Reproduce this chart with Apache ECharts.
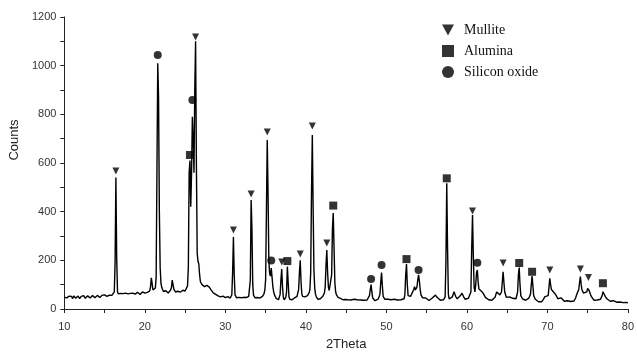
<!DOCTYPE html>
<html>
<head>
<meta charset="utf-8">
<script src="https://cdn.jsdelivr.net/npm/echarts@6/dist/echarts.min.js"></script>
<style>
  html, body { margin: 0; padding: 0; background: #fff; }
  #chart-container { width: 637px; height: 356px; }
</style>
</head>
<body>
<div id="chart-container"></div>
<script>
// diffraction scan, [2theta, counts]
var scan10to20 = [
  [10.0,48],[10.1,44],[10.2,51],[10.3,46],[10.4,42],[10.5,49],[10.6,53],[10.7,45],[10.8,47],[10.9,52],
  [11.0,43],[11.1,48],[11.2,54],[11.3,47],[11.4,44],[11.5,50],[11.6,46],[11.7,53],[11.8,49],[11.9,43],
  [12.0,47],[12.1,52],[12.2,45],[12.3,50],[12.4,55],[12.5,47],[12.6,44],[12.7,51],[12.8,48],[12.9,54],
  [13.0,46],[13.1,50],[13.2,45],[13.3,53],[13.4,49],[13.5,55],[13.6,47],[13.7,51],[13.8,46],[13.9,54],
  [14.0,50],[14.1,56],[14.2,48],[14.3,52],[14.4,47],[14.5,55],[14.6,51],[14.7,57],[14.8,49],[14.9,53],
  [15.0,58],[15.1,50],[15.2,55],[15.3,52],[15.4,59],[15.5,54],[15.6,57],[15.7,52],[15.8,60],[15.9,56],
  [16.0,58],[16.1,62],[16.2,70],[16.3,190],[16.4,540],[16.5,210],[16.6,72],[16.7,62],[16.8,66],[16.9,59],
  [17.0,64],[17.1,68],[17.2,57],[17.3,63],[17.4,67],[17.5,60],[17.6,65],[17.7,58],[17.8,66],[17.9,62],
  [18.0,69],[18.1,60],[18.2,64],[18.3,67],[18.4,59],[18.5,65],[18.6,62],[18.7,68],[18.8,61],[18.9,66],
  [19.0,63],[19.1,69],[19.2,62],[19.3,66],[19.4,60],[19.5,68],[19.6,64],[19.7,70],[19.8,63],[19.9,67],[20.0,65]
];
var scan20to30 = [
  [20.1,70],[20.2,64],[20.3,68],[20.4,72],[20.5,66],[20.6,74],[20.7,90],[20.8,128],[20.9,105],[21.0,78],
  [21.1,74],[21.2,80],[21.3,86],[21.4,130],[21.5,560],[21.6,1010],[21.7,870],[21.8,400],[21.9,170],[22.0,105],
  [22.1,88],[22.2,80],[22.3,72],[22.4,78],[22.5,68],[22.6,75],[22.7,70],[22.8,77],[22.9,66],[23.0,73],
  [23.1,70],[23.2,78],[23.3,88],[23.4,119],[23.5,100],[23.6,82],[23.7,74],[23.8,70],[23.9,76],[24.0,68],
  [24.1,73],[24.2,70],[24.3,76],[24.4,69],[24.5,74],[24.6,71],[24.7,77],[24.8,72],[24.9,75],[25.0,74],
  [25.1,78],[25.2,82],[25.3,95],[25.4,170],[25.5,560],[25.6,610],[25.7,420],[25.8,560],[25.9,790],[26.0,700],
  [26.1,560],[26.2,900],[26.3,1100],[26.4,600],[26.5,230],[26.6,195],[26.7,185],[26.8,140],[26.9,112],[27.0,104],
  [27.1,100],[27.2,106],[27.3,98],[27.4,92],[27.5,88],[27.6,93],[27.7,97],[27.8,100],[27.9,96],[28.0,90],
  [28.1,84],[28.2,80],[28.3,76],[28.4,72],[28.5,66],[28.6,70],[28.7,62],[28.8,60],[28.9,56],[29.0,60],
  [29.1,54],[29.2,52],[29.3,57],[29.4,50],[29.5,54],[29.6,49],[29.7,53],[29.8,48],[29.9,52],[30.0,47]
];
var scan30to45 = [
  [30.1,50],[30.2,46],[30.3,51],[30.4,47],[30.5,49],[30.6,45],[30.7,50],[30.8,58],[30.9,150],[31.0,296],
  [31.1,140],[31.2,58],[31.3,50],[31.4,46],[31.5,50],[31.6,45],[31.7,48],[31.8,44],[31.9,49],[32.0,46],
  [32.1,51],[32.2,45],[32.3,48],[32.4,44],[32.5,50],[32.6,47],[32.7,45],[32.8,50],[32.9,52],[33.0,58],
  [33.1,120],[33.2,448],[33.3,330],[33.4,100],[33.5,56],[33.6,50],[33.7,46],[33.8,49],[33.9,44],[34.0,47],
  [34.1,43],[34.2,48],[34.3,45],[34.4,50],[34.5,46],[34.6,52],[34.7,55],[34.8,62],[34.9,78],[35.0,120],
  [35.1,400],[35.2,695],[35.3,480],[35.4,200],[35.5,145],[35.6,135],[35.7,168],[35.8,130],[35.9,92],[36.0,70],
  [36.1,58],[36.2,50],[36.3,44],[36.4,40],[36.5,42],[36.6,38],[36.7,44],[36.8,60],[36.9,120],[37.0,164],
  [37.1,90],[37.2,48],[37.3,38],[37.4,42],[37.5,48],[37.6,70],[37.7,174],[37.8,110],[37.9,50],[38.0,40],
  [38.1,37],[38.2,42],[38.3,38],[38.4,44],[38.5,40],[38.6,46],[38.7,42],[38.8,48],[38.9,52],[39.0,58],
  [39.1,80],[39.2,150],[39.3,200],[39.4,110],[39.5,62],[39.6,52],[39.7,48],[39.8,44],[39.9,50],[40.0,47],
  [40.1,52],[40.2,55],[40.3,60],[40.4,66],[40.5,80],[40.6,150],[40.7,480],[40.8,715],[40.9,420],[41.0,160],
  [41.1,85],[41.2,60],[41.3,50],[41.4,45],[41.5,40],[41.6,44],[41.7,38],[41.8,42],[41.9,48],[42.0,46],
  [42.1,52],[42.2,58],[42.3,66],[42.4,90],[42.5,180],[42.6,242],[42.7,150],[42.8,90],[42.9,76],[43.0,72],
  [43.1,80],[43.2,140],[43.3,330],[43.4,394],[43.5,250],[43.6,110],[43.7,70],[43.8,58],[43.9,52],[44.0,48],
  [44.1,45],[44.2,50],[44.3,44],[44.4,40],[44.5,43],[44.6,38],[44.7,41],[44.8,36],[44.9,39],[45.0,34]
];
var scan45to60 = [
  [45.2,38],[45.4,33],[45.6,37],[45.8,34],[46.0,40],[46.2,45],[46.4,38],[46.6,34],[46.8,37],[47.0,42],
  [47.2,36],[47.4,33],[47.6,37],[47.8,42],[47.9,55],[48.0,80],[48.1,100],[48.2,70],[48.3,45],[48.4,38],
  [48.6,34],[48.8,37],[49.0,42],[49.2,60],[49.3,110],[49.4,150],[49.5,95],[49.6,52],[49.8,40],[50.0,36],
  [50.2,40],[50.4,46],[50.6,38],[50.8,35],[51.0,40],[51.2,46],[51.4,37],[51.6,33],[51.8,38],[52.0,35],
  [52.2,42],[52.3,60],[52.4,140],[52.5,185],[52.6,100],[52.7,55],[52.8,48],[53.0,52],[53.2,58],[53.4,80],
  [53.5,92],[53.6,78],[53.7,70],[53.8,90],[53.9,120],[54.0,140],[54.1,115],[54.2,80],[54.3,58],[54.5,46],
  [54.7,42],[54.9,45],[55.1,38],[55.3,35],[55.5,40],[55.7,45],[55.9,52],[56.1,57],[56.3,48],[56.5,40],
  [56.7,36],[56.9,40],[57.1,38],[57.3,50],[57.4,200],[57.5,517],[57.6,250],[57.7,60],[57.8,42],[58.0,38],
  [58.2,50],[58.4,71],[58.6,52],[58.8,42],[59.0,46],[59.2,55],[59.4,65],[59.6,50],[59.8,40],[60.0,42]
];
var scan60to80 = [
  [60.2,45],[60.4,52],[60.5,70],[60.6,250],[60.7,386],[60.8,220],[60.9,90],[61.0,70],[61.1,100],[61.2,150],
  [61.3,160],[61.4,110],[61.5,82],[61.7,78],[61.9,70],[62.1,60],[62.3,48],[62.5,40],[62.7,38],[62.9,42],
  [63.1,36],[63.3,40],[63.5,48],[63.7,70],[63.9,66],[64.1,58],[64.3,70],[64.4,110],[64.5,153],[64.6,110],
  [64.7,70],[64.9,48],[65.1,40],[65.3,50],[65.5,57],[65.7,44],[65.9,38],[66.1,42],[66.3,70],[66.4,140],
  [66.5,170],[66.6,100],[66.7,55],[66.9,42],[67.1,38],[67.3,36],[67.5,40],[67.7,45],[67.9,60],[68.0,100],
  [68.1,135],[68.2,95],[68.3,55],[68.5,40],[68.7,32],[68.9,30],[69.1,34],[69.3,30],[69.5,40],[69.7,51],
  [69.9,44],[70.1,55],[70.2,90],[70.3,126],[70.4,100],[70.5,80],[70.7,85],[70.9,65],[71.1,55],[71.3,42],
  [71.5,50],[71.7,46],[71.9,38],[72.1,32],[72.3,30],[72.5,34],[72.7,37],[72.9,31],[73.1,29],[73.3,33],
  [73.5,45],[73.7,65],[73.9,80],[74.0,110],[74.1,133],[74.2,100],[74.3,78],[74.5,65],[74.7,57],[74.9,70],
  [75.0,85],[75.1,92],[75.2,75],[75.4,55],[75.6,45],[75.8,36],[76.0,33],[76.2,37],[76.4,32],[76.6,40],
  [76.8,55],[76.9,71],[77.0,65],[77.2,51],[77.4,42],[77.6,37],[77.8,32],[78.0,30],[78.2,34],[78.4,33],
  [78.6,28],[78.8,26],[79.0,29],[79.2,24],[79.4,26],[79.6,23],[79.8,27],[80.0,25]
];

// phase marks, [2theta, counts] where each symbol sits
var mullitePeaks = [[16.4,567],[26.3,1118],[31.0,325],[33.2,473],[35.2,727],[37.0,193],[39.3,226],
  [40.8,752],[42.6,271],[60.7,403],[64.5,189],[70.3,160],[74.1,164],[75.1,129]];
var aluminaPeaks = [[25.6,633],[37.7,197],[43.4,425],[52.5,205],[57.5,537],[66.5,189],[68.1,153],[76.9,106]];
var silicaPeaks = [[21.6,1044],[25.9,859],[35.7,199],[48.1,123],[49.4,181],[54.0,160],[61.3,190]];

var phaseNames = ["Mullite", "Alumina", "Silicon oxide"];

var scan = scan10to20.concat(scan20to30, scan30to45, scan45to60, scan60to80);

var triangleDown = "path://M0,0L10,0L5,9Z";
var tickFont = "'Liberation Sans Narrow', 'Liberation Sans', sans-serif";

var dom = document.getElementById("chart-container");
var myChart = echarts.init(dom, null, { renderer: "canvas" });

var option = {
  backgroundColor: "#fff",
  animation: false,
  grid: { left: 63, right: 9, top: 17, bottom: 47 },
  legend: {
    orient: "vertical",
    left: 437,
    top: 18,
    itemWidth: 12,
    itemHeight: 12,
    itemGap: 7,
    textStyle: {
      fontFamily: "'Liberation Serif', serif",
      fontSize: 14,
      color: "#111",
      padding: [0, 0, 0, 5],
    },
    data: [
      { name: phaseNames[0], icon: triangleDown },
      { name: phaseNames[1], icon: "rect" },
      { name: phaseNames[2], icon: "circle" },
    ],
  },
  xAxis: {
    type: "value",
    min: 10,
    max: 80,
    interval: 5,
    name: "2Theta",
    nameLocation: "middle",
    nameGap: 29,
    nameTextStyle: { fontFamily: tickFont, fontSize: 13, color: "#222" },
    axisLine: { lineStyle: { color: "#222", width: 1 } },
    axisTick: { length: 4, lineStyle: { color: "#222" } },
    axisLabel: {
      fontFamily: tickFont,
      fontSize: 11,
      color: "#333",
      margin: 12,
      formatter: function (v) { return v % 10 === 0 ? v : ""; },
    },
    splitLine: { show: false },
  },
  yAxis: {
    type: "value",
    min: 0,
    max: 1200,
    interval: 100,
    name: "Counts",
    nameLocation: "middle",
    nameGap: 28,
    nameTextStyle: { fontFamily: tickFont, fontSize: 13, color: "#222", padding: [0, 0, 0, 46] },
    axisLine: { show: true, lineStyle: { color: "#222", width: 1 } },
    axisTick: { show: true, length: 4, lineStyle: { color: "#222" } },
    axisLabel: {
      fontFamily: tickFont,
      fontSize: 11,
      color: "#333",
      margin: 8,
      formatter: function (v) { return v % 200 === 0 ? v : ""; },
    },
    splitLine: { show: false },
  },
  series: [
    {
      name: "scan",
      type: "line",
      data: scan,
      showSymbol: false,
      symbol: "none",
      lineStyle: { color: "#000", width: 1.4 },
      z: 2,
    },
    {
      name: phaseNames[0],
      type: "scatter",
      data: mullitePeaks,
      symbol: triangleDown,
      symbolSize: [7, 7],
      itemStyle: { color: "#000" },
      z: 3,
    },
    {
      name: phaseNames[1],
      type: "scatter",
      data: aluminaPeaks,
      symbol: "rect",
      symbolSize: 8,
      itemStyle: { color: "#000" },
      z: 3,
    },
    {
      name: phaseNames[2],
      type: "scatter",
      data: silicaPeaks,
      symbol: "circle",
      symbolSize: 8,
      itemStyle: { color: "#000" },
      z: 3,
    },
  ],
};

if (option && typeof option === "object") {
  myChart.setOption(option);
}

window.addEventListener("resize", myChart.resize);
</script>
</body>
</html>
